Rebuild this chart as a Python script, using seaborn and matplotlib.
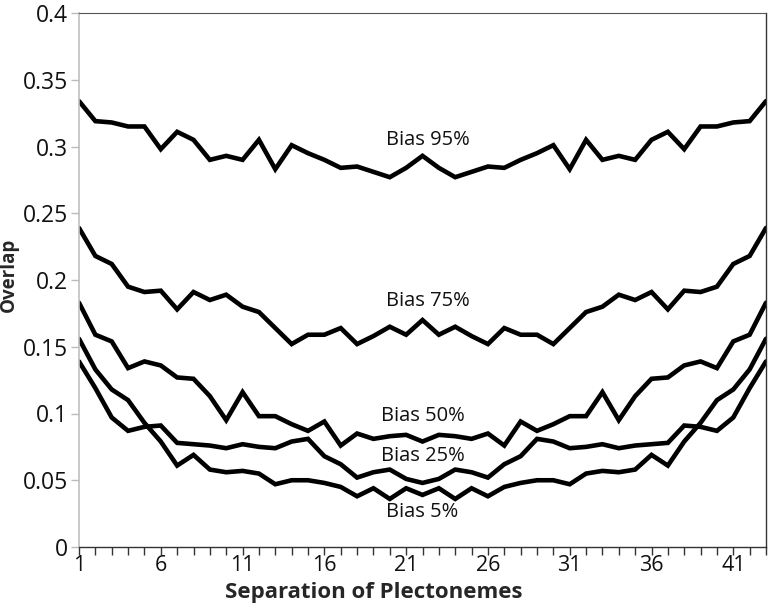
import matplotlib
matplotlib.use("Agg")
import matplotlib.pyplot as plt
from matplotlib.ticker import MultipleLocator, FixedLocator
import seaborn as sns
import pandas as pd

separation = list(range(1, 44))

bias_95 = [0.334, 0.319, 0.318, 0.315, 0.315, 0.298, 0.311, 0.305, 0.290, 0.293, 0.290,
           0.305, 0.283, 0.301, 0.295, 0.290, 0.284, 0.285, 0.281, 0.277, 0.284, 0.293,
           0.284, 0.277, 0.281, 0.285, 0.284, 0.290, 0.295, 0.301, 0.283, 0.305, 0.290,
           0.293, 0.290, 0.305, 0.311, 0.298, 0.315, 0.315, 0.318, 0.319, 0.334]
bias_75 = [0.239, 0.218, 0.212, 0.195, 0.191, 0.192, 0.178, 0.191, 0.185, 0.189, 0.180,
           0.176, 0.164, 0.152, 0.159, 0.159, 0.164, 0.152, 0.158, 0.165, 0.159, 0.170,
           0.159, 0.165, 0.158, 0.152, 0.164, 0.159, 0.159, 0.152, 0.164, 0.176, 0.180,
           0.189, 0.185, 0.191, 0.178, 0.192, 0.191, 0.195, 0.212, 0.218, 0.239]
bias_50 = [0.183, 0.159, 0.154, 0.134, 0.139, 0.136, 0.127, 0.126, 0.113, 0.095, 0.116,
           0.098, 0.098, 0.092, 0.087, 0.094, 0.076, 0.085, 0.081, 0.083, 0.084, 0.079,
           0.084, 0.083, 0.081, 0.085, 0.076, 0.094, 0.087, 0.092, 0.098, 0.098, 0.116,
           0.095, 0.113, 0.126, 0.127, 0.136, 0.139, 0.134, 0.154, 0.159, 0.183]
bias_25 = [0.139, 0.119, 0.097, 0.087, 0.090, 0.091, 0.078, 0.077, 0.076, 0.074, 0.077,
           0.075, 0.074, 0.079, 0.081, 0.068, 0.062, 0.052, 0.056, 0.058, 0.051, 0.048,
           0.051, 0.058, 0.056, 0.052, 0.062, 0.068, 0.081, 0.079, 0.074, 0.075, 0.077,
           0.074, 0.076, 0.077, 0.078, 0.091, 0.090, 0.087, 0.097, 0.119, 0.139]
bias_5 = [0.156, 0.133, 0.118, 0.110, 0.093, 0.079, 0.061, 0.069, 0.058, 0.056, 0.057,
          0.055, 0.047, 0.050, 0.050, 0.048, 0.045, 0.038, 0.044, 0.036, 0.044, 0.039,
          0.044, 0.036, 0.044, 0.038, 0.045, 0.048, 0.050, 0.050, 0.047, 0.055, 0.057,
          0.056, 0.058, 0.069, 0.061, 0.079, 0.093, 0.110, 0.118, 0.133, 0.156]

series_names = ["Bias 95%", "Bias 75%", "Bias 50%", "Bias 25%", "Bias 5%"]
series_values = [bias_95, bias_75, bias_50, bias_25, bias_5]
label_x = [22.3, 22.3, 22.0, 22.0, 22.0]
label_y = [0.305, 0.184, 0.098, 0.068, 0.026]

y_ticks = [0, 0.05, 0.1, 0.15, 0.2, 0.25, 0.3, 0.35, 0.4]
y_tick_labels = ["0", "0.05", "0.1", "0.15", "0.2", "0.25", "0.3", "0.35", "0.4"]
x_ticks = [1, 6, 11, 16, 21, 26, 31, 36, 41]

rows = []
for name, vals in zip(series_names, series_values):
    for s, v in zip(separation, vals):
        rows.append({"Separation": s, "Overlap": v, "Series": name})
df = pd.DataFrame(rows)

sns.set_style("white")
plt.rcParams["font.family"] = ["Open Sans", "DejaVu Sans"]

fig = plt.figure(figsize=(7.77, 6.11), dpi=100)
ax = fig.add_axes([79 / 777, 1 - 547 / 611, (766 - 79) / 777, (547 - 13) / 611])

sns.lineplot(data=df, x="Separation", y="Overlap", hue="Series",
             palette=["black"] * 5, linewidth=3.3, legend=False, ax=ax,
             estimator=None, solid_joinstyle="miter")

for name, lx, ly in zip(series_names, label_x, label_y):
    ax.text(lx, ly, name, ha="center", va="center", fontsize=14.5, color="#111111")

ax.set_xlim(1, 43)
ax.set_ylim(0, 0.4)
ax.set_yticks(y_ticks)
ax.set_yticklabels(y_tick_labels)
ax.xaxis.set_major_locator(FixedLocator(x_ticks))
ax.xaxis.set_minor_locator(MultipleLocator(1))

ax.tick_params(axis="y", direction="out", length=6, width=1, color="#bbbbbb",
               labelsize=16.5, labelcolor="#111111", left=True, pad=2)
ax.tick_params(axis="x", which="both", direction="out", length=6, width=1,
               color="#333333", bottom=True)
ax.tick_params(axis="x", which="major", labelsize=15.5, labelcolor="#111111", pad=0)

ax.spines["left"].set_color("#c0c0c0")
ax.spines["left"].set_linewidth(1.2)
ax.spines["bottom"].set_color("#333333")
ax.spines["bottom"].set_linewidth(1.0)
ax.spines["top"].set_color("#555555")
ax.spines["top"].set_linewidth(0.8)
ax.spines["right"].set_color("#333333")
ax.spines["right"].set_linewidth(1.0)

ax.set_xlabel("Separation of Plectonemes", fontsize=16, fontweight="bold")
ax.xaxis.set_label_coords((374 - 79) / 687, -0.066)
ax.set_ylabel("Overlap", fontsize=13.5, fontweight="bold")
ax.yaxis.set_label_coords(-0.088, 0.51)

fig.savefig("out.png", dpi=100)
